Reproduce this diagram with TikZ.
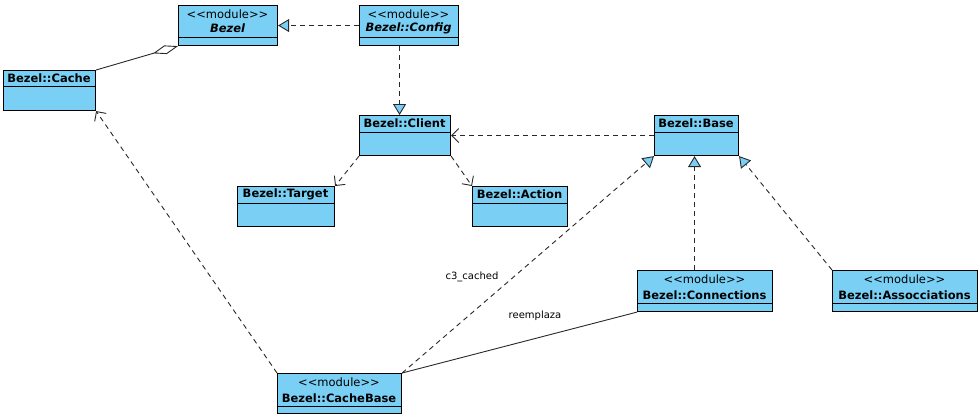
\documentclass[tikz,border=0pt]{standalone}
\usepackage{fontspec}
\setmainfont{DejaVu Sans}
\usetikzlibrary{arrows.meta,calc}
\definecolor{boxblue}{RGB}{122,207,245}
\definecolor{linegrey}{RGB}{40,40,40}
\newcommand{\stereotxt}{{<}{<}module{>}{>}}
\tikzset{
  cls/.style={draw=black, fill=boxblue, line width=1.1pt, inner sep=0pt, anchor=north west},
  divider/.style={draw=black, line width=0.8pt},
  stereo/.style={font=\fontsize{11.5}{12}\selectfont, inner sep=0pt},
  cname/.style={font=\fontsize{11.5}{12}\selectfont\bfseries, inner sep=0pt},
  cnamei/.style={font=\fontsize{11.5}{12}\selectfont\bfseries\itshape, inner sep=0pt},
  lbl/.style={font=\fontsize{10}{11}\selectfont, inner sep=0pt},
  dep/.style={draw=linegrey, line width=0.9pt, dash pattern=on 5pt off 4pt},
  solidc/.style={draw=linegrey, line width=0.9pt},
  openarrow/.style={-{Straight Barb[length=7pt,width=14pt,line width=0.9pt]}},
  realize/.style={-{Triangle[length=11pt,width=13pt,fill=boxblue,line width=0.9pt]}},
}
\begin{document}
\begin{tikzpicture}[x=1pt,y=-1pt]
\useasboundingbox (0,0) rectangle (980,420);

% ---- Bezel
\node[cls, minimum width=99pt, minimum height=40pt] (bezel) at (178,5) {};
\draw[divider] (bezel.west |- 0,37) -- (bezel.east |- 0,37);
\node[stereo] (bezelS) at (227.5,14) {\stereotxt};
\node[cnamei] (bezelN) at (227.5,28.5) {Bezel};

% ---- Bezel::Config
\node[cls, minimum width=99pt, minimum height=40pt] (config) at (359,5) {};
\draw[divider] (config.west |- 0,37) -- (config.east |- 0,37);
\node[stereo] (configS) at (408.5,14) {\stereotxt};
\node[cnamei] (configN) at (408.5,28.5) {Bezel::Config};

% ---- Bezel::Cache
\node[cls, minimum width=92pt, minimum height=40pt] (cache) at (3,70) {};
\draw[divider] (cache.west |- 0,86) -- (cache.east |- 0,86);
\node[cname] (cacheN) at (49,78.5) {Bezel::Cache};

% ---- Bezel::Client
\node[cls, minimum width=91pt, minimum height=40pt] (client) at (359,115) {};
\draw[divider] (client.west |- 0,132) -- (client.east |- 0,132);
\node[cname] (clientN) at (404.5,123.5) {Bezel::Client};

% ---- Bezel::Base
\node[cls, minimum width=84pt, minimum height=40pt] (base) at (654,115) {};
\draw[divider] (base.west |- 0,132) -- (base.east |- 0,132);
\node[cname] (baseN) at (696,123.5) {Bezel::Base};

% ---- Bezel::Target
\node[cls, minimum width=97pt, minimum height=40pt] (target) at (237,186) {};
\draw[divider] (target.west |- 0,203) -- (target.east |- 0,203);
\node[cname] (targetN) at (285.5,194.5) {Bezel::Target};

% ---- Bezel::Action
\node[cls, minimum width=95pt, minimum height=40pt] (action) at (472,186) {};
\draw[divider] (action.west |- 0,203) -- (action.east |- 0,203);
\node[cname] (actionN) at (519.5,194.5) {Bezel::Action};

% ---- Bezel::Connections
\node[cls, minimum width=135pt, minimum height=41pt] (conn) at (637,270) {};
\draw[divider] (conn.west |- 0,303) -- (conn.east |- 0,303);
\node[stereo] (connS) at (704.5,279) {\stereotxt};
\node[cname] (connN) at (704.5,295) {Bezel::Connections};

% ---- Bezel::Assocciations
\node[cls, minimum width=145pt, minimum height=41pt] (assoc) at (832,270) {};
\draw[divider] (assoc.west |- 0,303) -- (assoc.east |- 0,303);
\node[stereo] (assocS) at (904.5,279) {\stereotxt};
\node[cname] (assocN) at (904.5,295) {Bezel::Assocciations};

% ---- Bezel::CacheBase
\node[cls, minimum width=124pt, minimum height=40pt] (cachebase) at (277,373) {};
\draw[divider] (cachebase.west |- 0,406) -- (cachebase.east |- 0,406);
\node[stereo] (cachebaseS) at (339,382) {\stereotxt};
\node[cname] (cachebaseN) at (339,398) {Bezel::CacheBase};

% ---- connectors
\draw[dep, realize] (config.west) -- (bezel.east);
\coordinate (cfgdown) at ($(config.south)+(-9.5,0)$);
\draw[dep, realize] (cfgdown) -- (cfgdown |- client.north);
\draw[dep, openarrow] (base.west) -- (client.east);
\draw[dep, openarrow] (client.south west) -- (target.north east);
\draw[dep, openarrow] (client.south east) -- (action.north west);
\draw[solidc, -{Diamond[open,length=26pt,width=9pt,line width=0.9pt]}] (cache.north east) -- (bezel.south west);
\draw[dep, openarrow] (cachebase.north west) -- (cache.south east);
\draw[dep, realize] (cachebase.north east) -- (base.south west);
\coordinate (connup) at ($(conn.north)+(-10.5,0)$);
\draw[dep, realize] (connup) -- (connup |- base.south);
\draw[dep, realize] (assoc.north west) -- (base.south east);
\draw[solidc] (conn.south west) -- (cachebase.north east);

\node[lbl] (lblcached) at (472,277) {c3\_cached};
\node[lbl] (lblreemp) at (535,316) {reemplaza};
\end{tikzpicture}
\end{document}
